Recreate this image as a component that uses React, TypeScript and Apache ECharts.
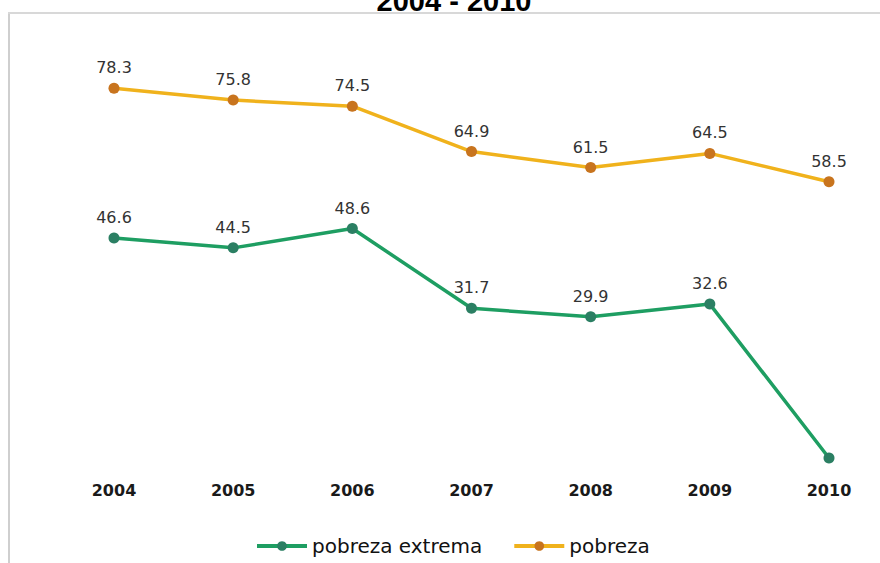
import React, { useEffect, useRef } from "react";
import * as echarts from "echarts";

const years = ["2004", "2005", "2006", "2007", "2008", "2009", "2010"];
const pobrezaExtrema = [46.6, 44.5, 48.6, 31.7, 29.9, 32.6, 0];
const pobreza = [78.3, 75.8, 74.5, 64.9, 61.5, 64.5, 58.5];
const titleText = "2004 - 2010";

export default function App() {
  const ref = useRef<HTMLDivElement>(null);
  useEffect(() => {
    if (!ref.current) return;
    const chart = echarts.init(ref.current, null, { renderer: "svg" });
    const labelStyle = {
      show: true,
      position: "top",
      distance: 7,
      fontFamily: "DejaVu Sans",
      fontSize: 16,
      color: "#333",
      formatter: (p: any) => Number(p.value).toFixed(1),
    };
    chart.setOption({
      animation: false,
      backgroundColor: "#ffffff",
      title: {
        text: titleText,
        left: 449,
        textAlign: "center",
        top: -19,
        textStyle: { fontFamily: "Liberation Sans", fontWeight: "bold", fontSize: 29, color: "#000" },
      },
      graphic: [
        { type: "line", shape: { x1: 9, y1: 13, x2: 9, y2: 563 }, style: { stroke: "#cfcfcf", lineWidth: 2 } },
        { type: "line", shape: { x1: 8, y1: 13, x2: 880, y2: 13 }, style: { stroke: "#d8d8d8", lineWidth: 2 } },
      ],
      grid: { left: 114, right: 51, top: 33, bottom: 105 },
      xAxis: {
        type: "category",
        data: years,
        boundaryGap: false,
        axisLine: { show: false },
        axisTick: { show: false },
        axisLabel: {
          margin: 24,
          fontFamily: "DejaVu Sans",
          fontSize: 16,
          fontWeight: "bold",
          color: "#1a1a1a",
        },
      },
      yAxis: {
        type: "value",
        min: 0,
        max: 90,
        show: false,
        splitLine: { show: false },
      },
      legend: {
        bottom: 2,
        left: 250,
        itemGap: 30,
        itemWidth: 50,
        itemHeight: 12,
        lineStyle: { width: 4 },
        textStyle: { fontFamily: "DejaVu Sans", fontSize: 20, color: "#111" },
        data: ["pobreza extrema", "pobreza"],
      },
      series: [
        {
          name: "pobreza extrema",
          type: "line",
          data: pobrezaExtrema.map((v, i) =>
            i === pobrezaExtrema.length - 1 ? { value: v, label: { show: false } } : v
          ),
          symbol: "circle",
          symbolSize: 11,
          lineStyle: { color: "#1e9e62", width: 3.5 },
          itemStyle: { color: "#2b7f63" },
          label: labelStyle,
        },
        {
          name: "pobreza",
          type: "line",
          data: pobreza,
          symbol: "circle",
          symbolSize: 11,
          lineStyle: { color: "#f0b21c", width: 3.5 },
          itemStyle: { color: "#c8741e" },
          label: labelStyle,
        },
      ],
    });
    return () => chart.dispose();
  }, []);
  return <div ref={ref} style={{ width: 880, height: 563, position: "absolute", left: 0, top: 0 }} />;
}
